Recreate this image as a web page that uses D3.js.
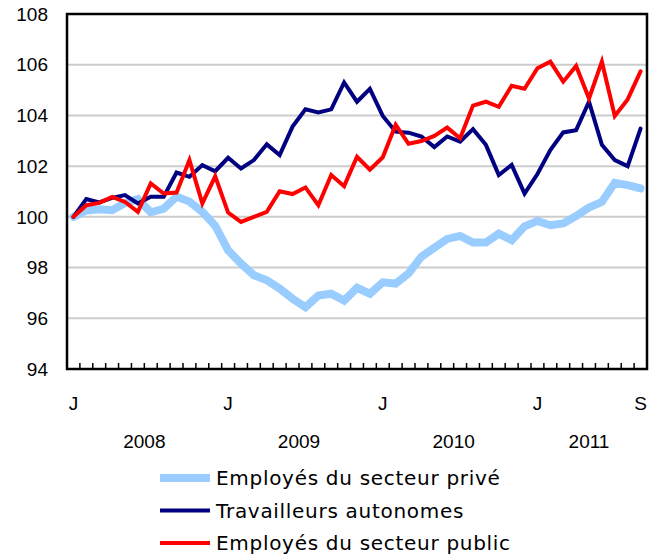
<!DOCTYPE html>
<html><head><meta charset="utf-8">
<script src="https://cdn.jsdelivr.net/npm/d3@7"></script>
<style>body{margin:0;background:#fff}svg{display:block}</style>
</head><body>
<svg id="c" width="649" height="556"></svg>
<script>
const months = d3.range(45); // Jan 2008 .. Sep 2011
const monthLabels = {0:"J",12:"J",24:"J",36:"J",44:"S"};
const years = [{label:"2008",from:0,to:11},{label:"2009",from:12,to:23},{label:"2010",from:24,to:35},{label:"2011",from:36,to:44}];
const yTicks = [94,96,98,100,102,104,106,108];
const seriesNames = ["Employés du secteur privé","Travailleurs autonomes","Employés du secteur public"];
const prive = [100.0,100.25,100.3,100.26,100.55,100.7,100.18,100.32,100.8,100.6,100.2,99.65,
  98.68,98.16,97.7,97.5,97.17,96.77,96.44,96.9,96.97,96.7,97.2,96.97,
  97.42,97.37,97.77,98.43,98.78,99.13,99.25,98.99,98.99,99.34,99.08,99.63,
  99.84,99.67,99.74,100.03,100.37,100.59,101.34,101.25,101.12];
const autonomes = [100.0,100.7,100.57,100.75,100.86,100.53,100.79,100.79,101.75,101.58,102.04,101.8,
  102.33,101.91,102.24,102.86,102.44,103.56,104.24,104.12,104.24,105.3,104.54,105.05,
  103.98,103.36,103.32,103.17,102.75,103.17,102.97,103.46,102.84,101.65,102.05,100.92,
  101.69,102.63,103.33,103.42,104.54,102.84,102.24,102.0,103.48];
const public_ = [100.0,100.46,100.55,100.79,100.59,100.2,101.32,100.92,100.96,102.24,100.53,101.6,
  100.17,99.8,100.0,100.2,101.01,100.9,101.16,100.46,101.65,101.21,102.37,101.86,
  102.35,103.63,102.88,102.99,103.19,103.52,103.1,104.39,104.54,104.34,105.17,105.05,
  105.86,106.12,105.33,105.95,104.67,106.12,103.98,104.63,105.74];

const svg = d3.select("#c");
const L = 67, R = 647, T = 14, B = 369;
const x = d3.scaleBand().domain(months).range([L, R]);
const y = d3.scaleLinear().domain([94,108]).range([B, T]);
const cx = i => x(i) + x.bandwidth()/2;

// gridlines
svg.append("g").selectAll("line").data(yTicks.filter(t=>t>94 && t<108)).join("line")
  .attr("x1", L).attr("x2", R).attr("y1", d=>y(d)).attr("y2", d=>y(d))
  .attr("stroke", "#cccccc").attr("stroke-width", 2);

// y labels
svg.append("g").selectAll("text").data(yTicks).join("text")
  .attr("x", 48).attr("y", d=>y(d)).attr("dy","0.35em").attr("text-anchor","end")
  .attr("font-family","'Liberation Sans', Arial, sans-serif").attr("font-size",19).attr("fill","#000")
  .text(d=>d);

// x ticks at month boundaries
svg.append("g").selectAll("line").data(d3.range(1,45)).join("line")
  .attr("x1", d=>x(d)).attr("x2", d=>x(d)).attr("y1", B).attr("y2", B-6)
  .attr("stroke","#000").attr("stroke-width",1.5);

// lines
const line = d3.line().x((d,i)=>cx(i)).y(d=>y(d));
const styles = [{data:prive,color:"#99ccff",w:8},{data:autonomes,color:"#000080",w:4},{data:public_,color:"#ff0000",w:4}];
svg.append("g").selectAll("path").data(styles).join("path")
  .attr("d", d=>line(d.data)).attr("fill","none").attr("stroke", d=>d.color)
  .attr("stroke-width", d=>d.w).attr("stroke-linejoin","miter").attr("stroke-linecap","round");

// frame
svg.append("rect").attr("x",L).attr("y",T).attr("width",R-L).attr("height",B-T)
  .attr("fill","none").attr("stroke","#000").attr("stroke-width",2.5);

// month labels
svg.append("g").selectAll("text").data(Object.keys(monthLabels).map(Number)).join("text")
  .attr("x", d=>cx(d)).attr("y", 410).attr("text-anchor","middle")
  .attr("font-family","'Liberation Sans', Arial, sans-serif").attr("font-size",19)
  .text(d=>monthLabels[d]);
// year labels
svg.append("g").selectAll("text").data(years).join("text")
  .attr("x", d=>(cx(d.from)+cx(d.to))/2).attr("y", 448).attr("text-anchor","middle")
  .attr("font-family","'Liberation Sans', Arial, sans-serif").attr("font-size",19)
  .text(d=>d.label);

// legend
const lg = svg.append("g").selectAll("g").data(styles).join("g")
  .attr("transform",(d,i)=>`translate(0,${478 + i*32.5})`);
lg.append("line").attr("x1",160).attr("x2",210).attr("y1",0).attr("y2",0)
  .attr("stroke",d=>d.color).attr("stroke-width",d=>d.w);
lg.append("text").attr("x",216).attr("y",0).attr("dy","0.35em")
  .attr("font-family","'DejaVu Sans', Verdana, sans-serif").attr("font-size",20)
  .attr("letter-spacing",0.7)
  .text((d,i)=>seriesNames[i]);
</script>
</body></html>
